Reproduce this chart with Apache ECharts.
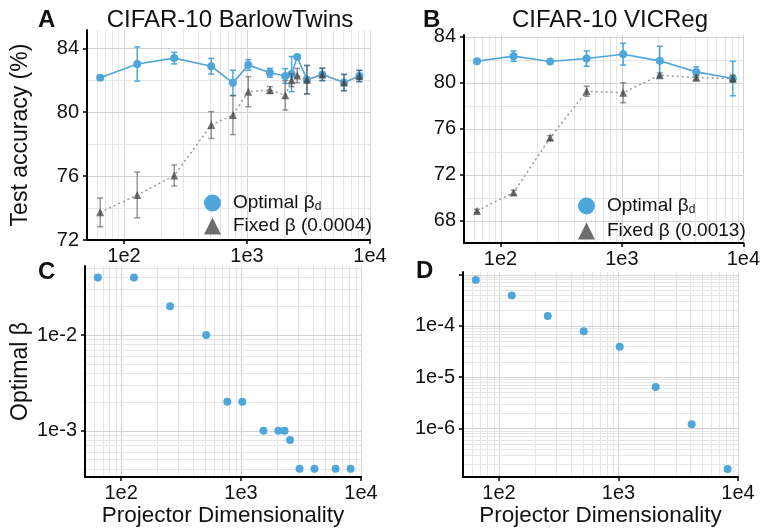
<!DOCTYPE html>
<html>
<head>
<meta charset="utf-8">
<script src="https://cdn.jsdelivr.net/npm/echarts@6/dist/echarts.min.js"></script>
<style>html,body{margin:0;padding:0;background:#fff;}#c{width:763px;height:529px;}</style>
</head>
<body>
<div id="c"></div>
<script>
// ---- data ----
const dimsA = [64, 128, 256, 512, 768, 1024, 1536, 2048, 2304, 2560, 3072, 4096, 6144, 8192];
const optA = [82.16, 83.02, 83.39, 82.88, 81.84, 82.96, 82.47, 82.27, 82.39, 83.46, 82.04, 82.37, 81.86, 82.27];
const optAErr = [0.12, 1.07, 0.36, 0.49, 0.79, 0.33, 0.28, 0.46, 1.1, 0.1, 0.89, 0.39, 0.51, 0.35];
const fixA = [73.73, 74.82, 76.04, 79.2, 79.82, 81.29, 81.39, 81.06, 82.0, 82.3, 82.04, 82.37, 81.86, 82.27];
const fixAErr = [0.9, 1.43, 0.66, 0.84, 1.22, 0.94, 0.22, 0.92, 0.4, 0.45, 0.89, 0.39, 0.51, 0.35];

const dimsB = [64, 128, 256, 512, 1024, 2048, 4096, 8192];
const optB = [81.87, 82.31, 81.84, 82.1, 82.48, 81.9, 80.94, 80.36];
const optBErr = [0.1, 0.45, 0.15, 0.67, 0.95, 1.27, 0.44, 1.5];
const fixB = [68.84, 70.44, 75.2, 79.25, 79.13, 80.65, 80.44, 80.36];
const fixBErr = [0.15, 0.2, 0.2, 0.44, 0.87, 0.2, 0.2, 0.3];

const betaC = [0.04, 0.04, 0.02, 0.01, 0.002, 0.002, 0.001, 0.001, 0.001, 0.0008, 0.0004, 0.0004, 0.0004, 0.0004];
const betaD = [7.8e-4, 3.9e-4, 1.55e-4, 7.8e-5, 3.9e-5, 6.4e-6, 1.2e-6, 1.6e-7];

const xTicks = [100, 1000, 10000];
const yTicksA = [72, 76, 80, 84];
const yTicksB = [68, 72, 76, 80, 84];
const yTicksC = [0.01, 0.001];
const yTickMarksD = [1e-3, 1e-4, 1e-5, 1e-6];
const yTicksD = [1e-4, 1e-5, 1e-6];

const titles = ['CIFAR-10 BarlowTwins', 'CIFAR-10 VICReg'];
const panelLetters = ['A', 'B', 'C', 'D'];
const legendA = ['Optimal β{sub|d}', 'Fixed β (0.0004)'];
const legendB = ['Optimal β{sub|d}', 'Fixed β (0.0013)'];

// ---- styles ----
const BLUE = '#4fa6db';
const GRAYPT = '#3a3a3a';
const FONT = 'Liberation Sans, Arial, Helvetica, sans-serif';
const MAJOR = '#d4d4d4';
const MINOR = '#e6e6e6';

const X_MIN = 50, X_MAX = 10000;
const YR = [[72, 85.15], [66.05, 84.15], [3.28e-4, 0.0526], [1.12e-7, 1.12e-3]];

function logGridVals(lo, hi) {
  const out = [];
  for (let e = Math.floor(Math.log10(lo)) - 1; e <= Math.ceil(Math.log10(hi)); e++) {
    for (let m = 1; m <= 9; m++) {
      const v = m * Math.pow(10, e);
      if (v > lo * 1.0001 && v <= hi * 1.0001) out.push({ v: v, major: m === 1 });
    }
  }
  return out;
}
function linGridVals(lo, hi, step, majorStep) {
  const out = [];
  for (let v = Math.ceil(lo / step) * step; v <= hi + 1e-9; v += step) {
    if (v > lo + 1e-9) out.push({ v: v, major: Math.abs(v / majorStep - Math.round(v / majorStep)) < 1e-9 });
  }
  return out;
}
// grid lines drawn through the axes' own scales (custom series)
function gridLineSeries(idx, xs, ys) {
  const yRef = YR[idx][0];
  const data = [];
  xs.forEach(g => data.push([g.v, yRef, 0, g.major ? 1 : 0]));
  ys.forEach(g => data.push([X_MIN, g.v, 1, g.major ? 1 : 0]));
  return {
    type: 'custom', xAxisIndex: idx, yAxisIndex: idx, z: 0, silent: true, clip: false,
    data: data, encode: { x: 0, y: 1 },
    renderItem: function (params, api) {
      const cs = params.coordSys;
      const p = api.coord([api.value(0), api.value(1)]);
      const color = api.value(3) ? MAJOR : MINOR;
      let shape;
      if (api.value(2) === 0) {
        const x = Math.round(p[0]) + 0.5;
        shape = { x1: x, y1: cs.y, x2: x, y2: cs.y + cs.height };
      } else {
        const y = Math.round(p[1]) + 0.5;
        shape = { x1: cs.x, y1: y, x2: cs.x + cs.width, y2: y };
      }
      return { type: 'line', shape: shape, style: { stroke: color, lineWidth: 1 } };
    }
  };
}
function legendDummy(name, idx, symbol, color, opacity) {
  return { type: 'scatter', name: name, xAxisIndex: idx, yAxisIndex: idx, data: [], symbol: symbol,
    itemStyle: { color: color, opacity: opacity } };
}
function errRender(color, opacity) {
  return function (params, api) {
    const x = api.value(0), y = api.value(1), e = api.value(2);
    const t = api.coord([x, y + e]);
    const b = api.coord([x, y - e]);
    const cw = 3;
    const st = { stroke: color, lineWidth: 1.5, opacity: opacity };
    return {
      type: 'group', children: [
        { type: 'line', shape: { x1: t[0], y1: t[1], x2: b[0], y2: b[1] }, style: st },
        { type: 'line', shape: { x1: t[0] - cw, y1: t[1], x2: t[0] + cw, y2: t[1] }, style: st },
        { type: 'line', shape: { x1: b[0] - cw, y1: b[1], x2: b[0] + cw, y2: b[1] }, style: st }
      ]
    };
  };
}
const logFmt = v => '1e' + Math.round(Math.log10(v));

const axisCommon = {
  axisLine: { show: true, lineStyle: { color: '#000', width: 2 } },
  axisTick: { show: true, length: 4, lineStyle: { color: '#000', width: 1.5 } },
  splitLine: { show: false },
  minorTick: { show: false },
  nameTextStyle: { color: '#111', fontSize: 23, fontFamily: FONT }
};
function xAxis(idx, withName) {
  return Object.assign({}, axisCommon, {
    type: 'log', logBase: 10, gridIndex: idx, min: X_MIN, max: X_MAX,
    axisTick: Object.assign({}, axisCommon.axisTick, { customValues: xTicks }),
    axisLabel: { customValues: xTicks, formatter: logFmt, color: '#111', fontSize: 20, fontFamily: FONT, margin: 6 },
    name: withName ? 'Projector Dimensionality' : '', nameLocation: 'middle', nameGap: 27,
    nameTextStyle: { color: '#111', fontSize: 22.5, fontFamily: FONT }
  });
}
function yAxis(idx, opts) {
  return Object.assign({}, axisCommon, {
    gridIndex: idx, min: YR[idx][0], max: YR[idx][1],
    axisTick: Object.assign({}, axisCommon.axisTick, { customValues: opts.ticks }),
    axisLabel: { customValues: opts.labels, formatter: opts.fmt, color: '#111', fontSize: 20, fontFamily: FONT, margin: 8 },
    nameLocation: 'middle'
  }, opts.extra);
}

const gridXVals = logGridVals(X_MIN, X_MAX);
const legendText = { fontSize: 19, color: '#111', fontFamily: FONT, lineHeight: 20, padding: [0, 0, 0, 7],
  rich: { sub: { fontSize: 12, verticalAlign: 'bottom', lineHeight: 6, color: '#111', fontFamily: FONT } } };
const letterStyle = { fontSize: 24, fontWeight: 'bold', color: '#111', fontFamily: FONT };
const titleStyle = { fontSize: 24, fontWeight: 'normal', color: '#111', fontFamily: FONT };

const option = {
  animation: false,
  backgroundColor: '#fff',
  textStyle: { fontFamily: FONT },
  title: [
    { text: panelLetters[0], left: 33, top: 3, textStyle: letterStyle },
    { text: panelLetters[1], left: 418, top: 3, textStyle: letterStyle },
    { text: panelLetters[2], left: 33, top: 255, textStyle: letterStyle },
    { text: panelLetters[3], left: 411, top: 254, textStyle: letterStyle },
    { text: titles[0], left: 225, textAlign: 'center', top: 3, textStyle: titleStyle },
    { text: titles[1], left: 605, textAlign: 'center', top: 3, textStyle: titleStyle }
  ],
  legend: [
    {
      data: [{ name: 'A_opt', icon: 'circle' }, { name: 'A_fix', icon: 'triangle' }],
      orient: 'vertical', left: 204, top: 193, padding: 0, itemWidth: 17, itemHeight: 17, itemGap: 3,
      formatter: n => n === 'A_opt' ? legendA[0] : legendA[1],
      textStyle: legendText, selectedMode: false
    },
    {
      data: [{ name: 'B_opt', icon: 'circle' }, { name: 'B_fix', icon: 'triangle' }],
      orient: 'vertical', left: 578, top: 196, padding: 0, itemWidth: 17, itemHeight: 17, itemGap: 5,
      formatter: n => n === 'B_opt' ? legendB[0] : legendB[1],
      textStyle: legendText, selectedMode: false
    }
  ],
  grid: [
    { left: 87, top: 30, width: 283, height: 210 },
    { left: 464, top: 35, width: 282, height: 208 },
    { left: 85, top: 266, width: 276, height: 211 },
    { left: 463, top: 272, width: 275, height: 205 }
  ],
  xAxis: [xAxis(0, false), xAxis(1, false), xAxis(2, true), xAxis(3, true)],
  yAxis: [
    yAxis(0, { ticks: yTicksA, labels: yTicksA, extra: { type: 'value', name: 'Test accuracy (%)', nameGap: 55 } }),
    yAxis(1, { ticks: yTicksB, labels: yTicksB, extra: { type: 'value' } }),
    yAxis(2, { ticks: yTicksC, labels: yTicksC, fmt: logFmt, extra: { type: 'log', logBase: 10, name: 'Optimal β', nameGap: 53 } }),
    yAxis(3, { ticks: yTickMarksD, labels: yTicksD, fmt: logFmt, extra: { type: 'log', logBase: 10 } })
  ],
  series: [
    gridLineSeries(0, gridXVals, linGridVals(YR[0][0], YR[0][1], 2, 4)),
    gridLineSeries(1, gridXVals, linGridVals(YR[1][0], YR[1][1], 2, 4)),
    gridLineSeries(2, gridXVals, logGridVals(YR[2][0], YR[2][1])),
    gridLineSeries(3, gridXVals, logGridVals(YR[3][0], YR[3][1])),
    legendDummy('A_opt', 0, 'circle', BLUE, 1),
    legendDummy('A_fix', 0, 'triangle', '#555', 0.85),
    legendDummy('B_opt', 1, 'circle', BLUE, 1),
    legendDummy('B_fix', 1, 'triangle', '#555', 0.85),
    // Panel A
    { type: 'custom', name: 'A_opt_err', xAxisIndex: 0, yAxisIndex: 0, z: 2, renderItem: errRender(BLUE, 1),
      data: dimsA.map((d, i) => [d, optA[i], optAErr[i]]), encode: { x: 0, y: 1 } },
    { type: 'line', name: 'A_opt_line', xAxisIndex: 0, yAxisIndex: 0, z: 3, data: dimsA.map((d, i) => [d, optA[i]]),
      symbol: 'circle', symbolSize: 8, itemStyle: { color: BLUE }, lineStyle: { color: BLUE, width: 1.6 } },
    { type: 'custom', name: 'A_fix_err', xAxisIndex: 0, yAxisIndex: 0, z: 4, renderItem: errRender('#555', 0.6),
      data: dimsA.map((d, i) => [d, fixA[i], fixAErr[i]]), encode: { x: 0, y: 1 } },
    { type: 'line', name: 'A_fix_line', xAxisIndex: 0, yAxisIndex: 0, z: 5, data: dimsA.map((d, i) => [d, fixA[i]]),
      symbol: 'triangle', symbolSize: 8, itemStyle: { color: GRAYPT, opacity: 0.7 }, lineStyle: { color: '#9a9a9a', width: 1.5, type: [2, 3] } },
    // Panel B
    { type: 'custom', name: 'B_opt_err', xAxisIndex: 1, yAxisIndex: 1, z: 2, renderItem: errRender(BLUE, 1),
      data: dimsB.map((d, i) => [d, optB[i], optBErr[i]]), encode: { x: 0, y: 1 } },
    { type: 'line', name: 'B_opt_line', xAxisIndex: 1, yAxisIndex: 1, z: 3, data: dimsB.map((d, i) => [d, optB[i]]),
      symbol: 'circle', symbolSize: 8, itemStyle: { color: BLUE }, lineStyle: { color: BLUE, width: 1.6 } },
    { type: 'custom', name: 'B_fix_err', xAxisIndex: 1, yAxisIndex: 1, z: 4, renderItem: errRender('#555', 0.6),
      data: dimsB.map((d, i) => [d, fixB[i], fixBErr[i]]), encode: { x: 0, y: 1 } },
    { type: 'line', name: 'B_fix_line', xAxisIndex: 1, yAxisIndex: 1, z: 5, data: dimsB.map((d, i) => [d, fixB[i]]),
      symbol: 'triangle', symbolSize: 8, itemStyle: { color: GRAYPT, opacity: 0.7 }, lineStyle: { color: '#9a9a9a', width: 1.5, type: [2, 3] } },
    // Panel C
    { type: 'scatter', name: 'C', xAxisIndex: 2, yAxisIndex: 2, z: 3, data: dimsA.map((d, i) => [d, betaC[i]]),
      symbol: 'circle', symbolSize: 8, itemStyle: { color: BLUE, opacity: 1 } },
    // Panel D
    { type: 'scatter', name: 'D', xAxisIndex: 3, yAxisIndex: 3, z: 3, data: dimsB.map((d, i) => [d, betaD[i]]),
      symbol: 'circle', symbolSize: 8, itemStyle: { color: BLUE, opacity: 1 } }
  ]
};
const chart = echarts.init(document.getElementById('c'), null, { renderer: 'canvas' });
chart.setOption(option);
</script>
</body>
</html>
